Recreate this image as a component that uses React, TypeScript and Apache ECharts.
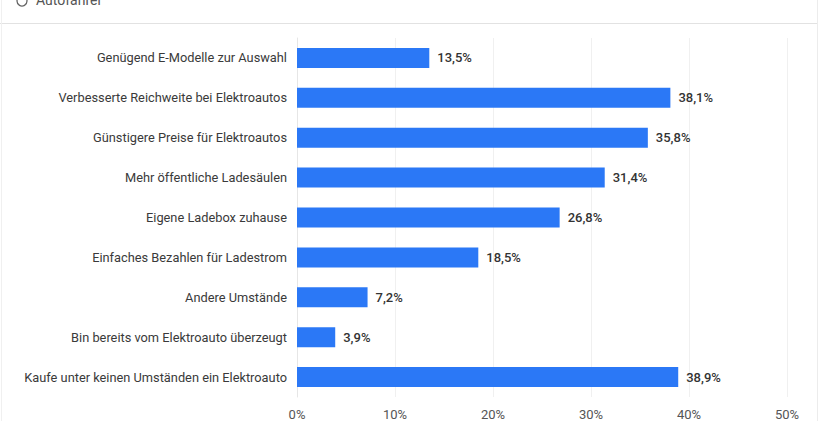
import React, { useEffect, useRef } from 'react';
import * as echarts from 'echarts';

const categories = [
  'Genügend E-Modelle zur Auswahl',
  'Verbesserte Reichweite bei Elektroautos',
  'Günstigere Preise für Elektroautos',
  'Mehr öffentliche Ladesäulen',
  'Eigene Ladebox zuhause',
  'Einfaches Bezahlen für Ladestrom',
  'Andere Umstände',
  'Bin bereits vom Elektroauto überzeugt',
  'Kaufe unter keinen Umständen ein Elektroauto',
];

const values = [13.5, 38.1, 35.8, 31.4, 26.8, 18.5, 7.2, 3.9, 38.9];

const headerLabel = 'Autofahrer';

const App: React.FC = () => {
  const chartRef = useRef<HTMLDivElement>(null);

  useEffect(() => {
    if (!chartRef.current) return;
    const chart = echarts.init(chartRef.current, undefined, { renderer: 'svg' });

    const option: echarts.EChartsOption = {
      animation: false,
      textStyle: { fontFamily: 'Roboto, "Noto Sans", sans-serif' },
      grid: { left: 297, right: 32, top: 38, height: 360 },
      xAxis: {
        type: 'value',
        min: 0,
        max: 50,
        interval: 10,
        axisLine: { show: false },
        axisTick: { show: false },
        splitLine: { show: true, lineStyle: { color: '#f0f0f0', width: 1 } },
        axisLabel: {
          formatter: '{value}%',
          color: '#555',
          fontSize: 13,
          margin: 11,
        },
      },
      yAxis: {
        type: 'category',
        inverse: true,
        data: categories,
        axisLine: { show: true, lineStyle: { color: '#e6e6e6' } },
        axisTick: { show: false },
        axisLabel: { color: '#3a3a3a', fontSize: 12.8, margin: 10 },
      },
      series: [
        {
          type: 'bar',
          data: values,
          barWidth: 20,
          itemStyle: { color: '#2b78f6' },
          label: {
            show: true,
            position: 'right',
            distance: 8,
            color: '#333',
            fontSize: 13,
            fontWeight: 500,
            formatter: (p: any) => `${String(p.value.toFixed(1)).replace('.', ',')}%`,
          },
        },
      ],
      graphic: [
        {
          type: 'line',
          shape: { x1: 0, y1: 23.5, x2: 817, y2: 23.5 },
          style: { stroke: '#e2e2e2', lineWidth: 1 },
        },
        {
          type: 'line',
          shape: { x1: 817.5, y1: 0, x2: 817.5, y2: 421 },
          style: { stroke: '#ececec', lineWidth: 1 },
        },
        {
          type: 'line',
          shape: { x1: 1.5, y1: 0, x2: 1.5, y2: 421 },
          style: { stroke: '#f0f0f0', lineWidth: 1 },
        },
        {
          type: 'circle',
          shape: { cx: 22, cy: 1, r: 5 },
          style: { fill: 'none', stroke: '#666', lineWidth: 1.3 },
        },
        {
          type: 'text',
          x: 36,
          y: -7,
          style: { text: headerLabel, fill: '#555', fontSize: 14, fontFamily: 'Roboto, sans-serif' },
        },
      ],
    };

    chart.setOption(option);
    return () => {
      chart.dispose();
    };
  }, []);

  return (
    <div
      ref={chartRef}
      style={{ position: 'absolute', left: 0, top: 0, width: 819, height: 421, background: '#fff' }}
    />
  );
};

export default App;
